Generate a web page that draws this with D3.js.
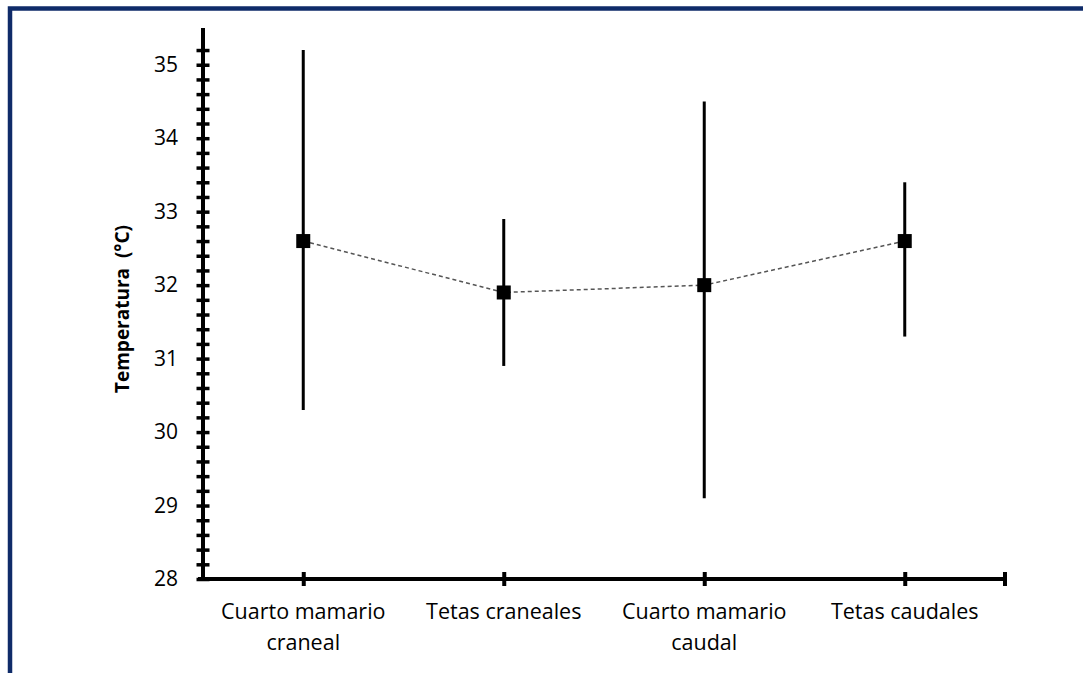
<!DOCTYPE html>
<html>
<head>
<meta charset="utf-8">
<script src="https://cdn.jsdelivr.net/npm/d3@7"></script>
<style>
  html, body { margin: 0; padding: 0; background: #fff; }
  svg { display: block; }
  text { font-family: "Open Sans", "Noto Sans", sans-serif; fill: #000; }
</style>
</head>
<body>
<svg id="chart" width="1083" height="673"></svg>
<script>
// Mammary temperature by region: mean with min–max range
const categories = [["Cuarto mamario", "craneal"], ["Tetas craneales"], ["Cuarto mamario", "caudal"], ["Tetas caudales"]];
const meanTemp = [32.6, 31.9, 32.0, 32.6];
const lowTemp  = [30.3, 30.9, 29.1, 31.3];
const highTemp = [35.2, 32.9, 34.5, 33.4];
const yTickLabels = [28, 29, 30, 31, 32, 33, 34, 35];
const yTitle = "Temperatura  (°C)";

const svg = d3.select("#chart");
const W = 1083, H = 673;

// outer frame (only top and left edges fall inside the view)
svg.append("rect")
  .attr("x", 10).attr("y", 8.5)
  .attr("width", W + 40).attr("height", H + 40)
  .attr("fill", "none").attr("stroke", "#0F2B69").attr("stroke-width", 4.5);

const plotLeft = 203, plotRight = 1005, plotTop = 28, plotBottom = 579;
const keys = categories.map(c => c.join(" "));

const x = d3.scalePoint().domain(keys).range([plotLeft, plotRight]).padding(0.5);
const y = d3.scaleLinear().domain([28, 35.5]).range([plotBottom, plotTop]);

// y axis with minor ticks every 0.2 crossing the line
const minorTicks = d3.range(0, 37).map(i => +(28 + i * 0.2).toFixed(1));
const yAxis = svg.append("g")
  .attr("transform", `translate(${plotLeft},0)`)
  .call(d3.axisLeft(y).tickValues(minorTicks).tickSize(0).tickFormat(() => ""));
yAxis.select(".domain").remove();
yAxis.selectAll(".tick line")
  .attr("x1", -6.5).attr("x2", 6.5)
  .attr("stroke", "#000").attr("stroke-width", 3.5);
yAxis.append("line")
  .attr("x1", 0).attr("x2", 0).attr("y1", plotTop).attr("y2", plotBottom + 2)
  .attr("stroke", "#000").attr("stroke-width", 4);

// y tick labels at whole degrees
const yLabels = svg.append("g")
  .attr("transform", `translate(${plotLeft},0)`)
  .call(d3.axisLeft(y).tickValues(yTickLabels).tickSize(0).tickPadding(25).tickFormat(d3.format("d")));
yLabels.select(".domain").remove();
yLabels.selectAll("text")
  .attr("font-size", 21).attr("fill", "#000")
  .style("font-family", "'Open Sans', sans-serif");

// x axis
const xAxis = svg.append("g")
  .attr("transform", `translate(0,${plotBottom})`)
  .call(d3.axisBottom(x).tickSize(0).tickFormat(() => ""));
xAxis.select(".domain").remove();
xAxis.append("line")
  .attr("x1", plotLeft - 5).attr("x2", plotRight)
  .attr("stroke", "#000").attr("stroke-width", 4);
xAxis.selectAll(".tick line")
  .attr("y1", -7).attr("y2", 7)
  .attr("stroke", "#000").attr("stroke-width", 4);
xAxis.append("line")
  .attr("x1", plotRight).attr("x2", plotRight).attr("y1", -7).attr("y2", 7)
  .attr("stroke", "#000").attr("stroke-width", 4);

// category labels (wrapped)
const xl = svg.append("g");
categories.forEach((lines, i) => {
  const t = xl.append("text")
    .attr("x", x(keys[i])).attr("y", 619)
    .attr("text-anchor", "middle").attr("font-size", 21.5);
  lines.forEach((ln, j) => {
    t.append("tspan").attr("x", x(keys[i])).attr("dy", j === 0 ? 0 : 31).text(ln);
  });
});

// y title
svg.append("text")
  .attr("transform", `translate(129,309) rotate(-90)`)
  .attr("text-anchor", "middle")
  .attr("font-size", 19).attr("font-weight", "bold")
  .style("white-space", "pre")
  .text(yTitle);

// dashed line joining means
const pts = keys.map((k, i) => [x(k), y(meanTemp[i])]);
svg.append("path")
  .attr("d", d3.line()(pts))
  .attr("fill", "none").attr("stroke", "#555").attr("stroke-width", 1.5)
  .attr("stroke-dasharray", "4,3");

// range bars
svg.append("g").selectAll("line")
  .data(keys).join("line")
  .attr("x1", k => x(k)).attr("x2", k => x(k))
  .attr("y1", (k, i) => y(lowTemp[i])).attr("y2", (k, i) => y(highTemp[i]))
  .attr("stroke", "#000").attr("stroke-width", 3);

// mean markers
const s = 14;
svg.append("g").selectAll("rect")
  .data(keys).join("rect")
  .attr("x", k => x(k) - s / 2)
  .attr("y", (k, i) => y(meanTemp[i]) - s / 2)
  .attr("width", s).attr("height", s)
  .attr("fill", "#000");
</script>
</body>
</html>
